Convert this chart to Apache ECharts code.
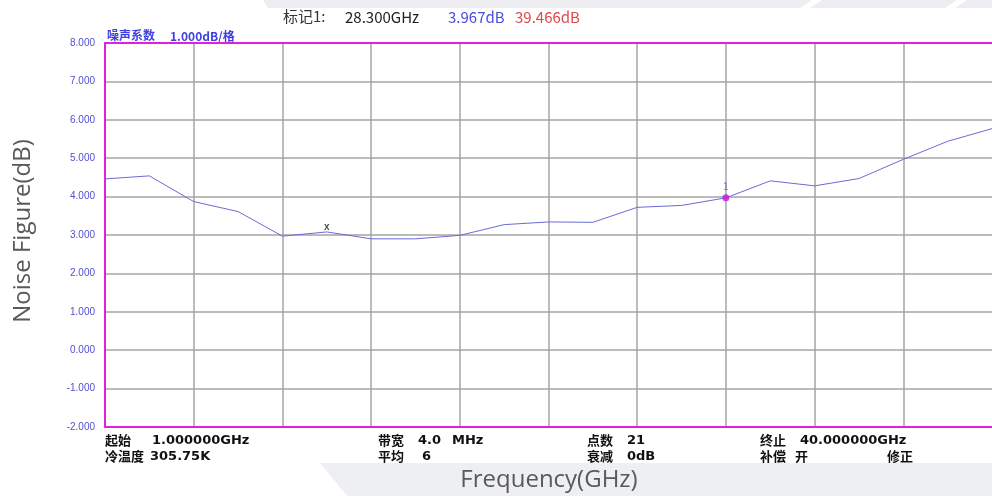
<!DOCTYPE html>
<html>
<head>
<meta charset="utf-8">
<script src="https://cdn.jsdelivr.net/npm/echarts@6/dist/echarts.min.js"></script>
<style>
html,body{margin:0;padding:0;background:#fff;}
#c{width:992px;height:496px;}
</style>
</head>
<body>
<div id="c"></div>
<script>
// Frequencies (GHz), 21 sweep points
const freqs = ['1', '2.95', '4.9', '6.85', '8.8', '10.75', '12.7', '14.65', '16.6', '18.55', '20.5',
  '22.45', '24.4', '26.35', '28.3', '30.25', '32.2', '34.15', '36.1', '38.05', '40'];
// Noise figure (dB)
const noiseFigure = [4.46, 4.54, 3.87, 3.61, 2.97, 3.08, 2.90, 2.90, 2.99, 3.27, 3.34,
  3.33, 3.72, 3.77, 3.967, 4.41, 4.28, 4.47, 4.97, 5.44, 5.77];
const markerIndex = 14;   // 标记1 at 28.300GHz
const crossIndex = 5;     // "x" marker
const yTicks = { min: -2, max: 8, step: 1 };
const headerTexts = ['标记1:', '28.300GHz', '3.967dB', '39.466dB'];
const infoLabels1 = ['起始', '带宽', '点数', '终止'];
const infoValues1 = ['1.000000GHz', '4.0', '21', '40.000000GHz'];
const infoLabels2 = ['冷温度', '平均', '衰减', '补偿'];
const infoValues2 = ['305.75K', '6', '0dB', '开'];

const chart = echarts.init(document.getElementById('c'), null, { renderer: 'canvas' });
const MAG = '#e020e0';
const GRID = '#a4a4a4';
const cjk = '"Noto Sans CJK SC", "Noto Sans", sans-serif';
const lat = '"DejaVu Sans", "Noto Sans CJK SC", sans-serif';

const markerData = noiseFigure.map((v, i) => i === markerIndex ? v : '-');
const crossData = noiseFigure.map((v, i) => i === crossIndex ? v : '-');

const labelX = [105, 378, 587, 760];
const valueX1 = [152, 418, 627, 800];
const valueX2 = [150, 422, 627, 795];

function txt(x, y, text, fill, font, extra) {
  return { type: 'text', style: Object.assign({ x: x, y: y, text: text, fill: fill, font: font, textVerticalAlign: 'middle' }, extra || {}) };
}

const graphic = [
  // decorative background bands
  { type: 'polygon', z: -10, silent: true, shape: { points: [[263, 0], [992, 0], [992, 8], [268, 8]] }, style: { fill: '#eeeef2' } },
  { type: 'polygon', z: -9, silent: true, shape: { points: [[800, 8], [812, 0], [822, 0], [810, 8]] }, style: { fill: '#ffffff' } },
  { type: 'polygon', z: -9, silent: true, shape: { points: [[945, 8], [957, 0], [967, 0], [955, 8]] }, style: { fill: '#ffffff' } },
  { type: 'polygon', z: -10, silent: true, shape: { points: [[320, 463], [992, 463], [992, 496], [347, 496]] }, style: { fill: '#eeeff3' } },
  // header
  txt(283, 16, headerTexts[0], '#333', '15px ' + cjk),
  txt(345, 17, headerTexts[1], '#222', '15px ' + cjk),
  txt(448, 17, headerTexts[2], '#4a4ae0', '15px ' + cjk),
  txt(515, 17, headerTexts[3], '#e04848', '15px ' + cjk),
  txt(107, 35, '噪声系数', '#4040e0', 'bold 12px ' + cjk),
  txt(170, 36, '1.000dB/格', '#4040e0', 'bold 12px ' + cjk),
  // axis titles
  { type: 'text', rotation: Math.PI / 2, x: 23, y: 231, style: { x: 0, y: 0, text: 'Noise Figure(dB)', fill: '#595959', font: '24px "Open Sans", sans-serif', textAlign: 'center', textVerticalAlign: 'middle' } },
  txt(549, 480, 'Frequency(GHz)', '#595959', '24px "Open Sans", sans-serif', { textAlign: 'center' })
];
for (let i = 0; i < 4; i++) {
  graphic.push(txt(labelX[i], 440, infoLabels1[i], '#111', 'bold 13px ' + cjk));
  graphic.push(txt(valueX1[i], 441, infoValues1[i], '#111', 'bold 13px ' + lat));
  graphic.push(txt(labelX[i], 456, infoLabels2[i], '#111', 'bold 13px ' + cjk));
  graphic.push(txt(valueX2[i], i === 3 ? 456 : 457, infoValues2[i], '#111', 'bold 13px ' + (i === 3 ? cjk : lat)));
}
graphic.push(txt(452, 441, 'MHz', '#111', 'bold 13px ' + lat));
graphic.push(txt(887, 456, '修正', '#111', 'bold 13px ' + cjk));

chart.setOption({
  animation: false,
  backgroundColor: '#ffffff',
  grid: { left: 105, top: 43, width: 889, height: 384, containLabel: false },
  xAxis: [{
    type: 'category',
    data: freqs,
    boundaryGap: false,
    axisLine: { show: true, onZero: false, lineStyle: { color: MAG, width: 2 } },
    axisTick: { show: false },
    axisLabel: { show: false },
    splitLine: {
      show: true,
      interval: (idx) => idx % 2 === 0 && idx > 0 && idx < freqs.length - 1,
      lineStyle: { color: GRID, width: 1.5 }
    }
  }, {
    type: 'category',
    data: freqs,
    position: 'top',
    boundaryGap: false,
    axisLine: { show: true, onZero: false, lineStyle: { color: MAG, width: 2 } },
    axisTick: { show: false },
    axisLabel: { show: false },
    splitLine: { show: false }
  }],
  yAxis: {
    type: 'value',
    min: yTicks.min,
    max: yTicks.max,
    interval: yTicks.step,
    axisLine: { show: true, onZero: false, lineStyle: { color: MAG, width: 2 } },
    axisTick: { show: false },
    axisLabel: {
      margin: 10,
      color: '#5050d0',
      fontSize: 10,
      fontFamily: 'Liberation Sans, Arial, sans-serif',
      formatter: (v) => v.toFixed(3)
    },
    splitLine: { show: true, showMinLine: false, showMaxLine: false, lineStyle: { color: GRID, width: 1.5 } }
  },
  series: [{
    type: 'line',
    data: noiseFigure,
    showSymbol: false,
    symbol: 'none',
    lineStyle: { color: '#6a6ad8', width: 1 },
    z: 3
  }, {
    type: 'scatter',
    data: markerData,
    symbolSize: 7,
    itemStyle: { color: '#cc10e8' },
    label: { show: true, position: 'top', distance: 2, formatter: '1', color: '#5a5ae0', fontSize: 10 },
    z: 5
  }, {
    type: 'scatter',
    data: crossData,
    symbolSize: 0,
    label: { show: true, position: 'top', distance: 0, formatter: 'x', color: '#222', fontSize: 10, fontWeight: 'bold' },
    z: 5
  }],
  graphic: graphic
});
</script>
</body>
</html>
